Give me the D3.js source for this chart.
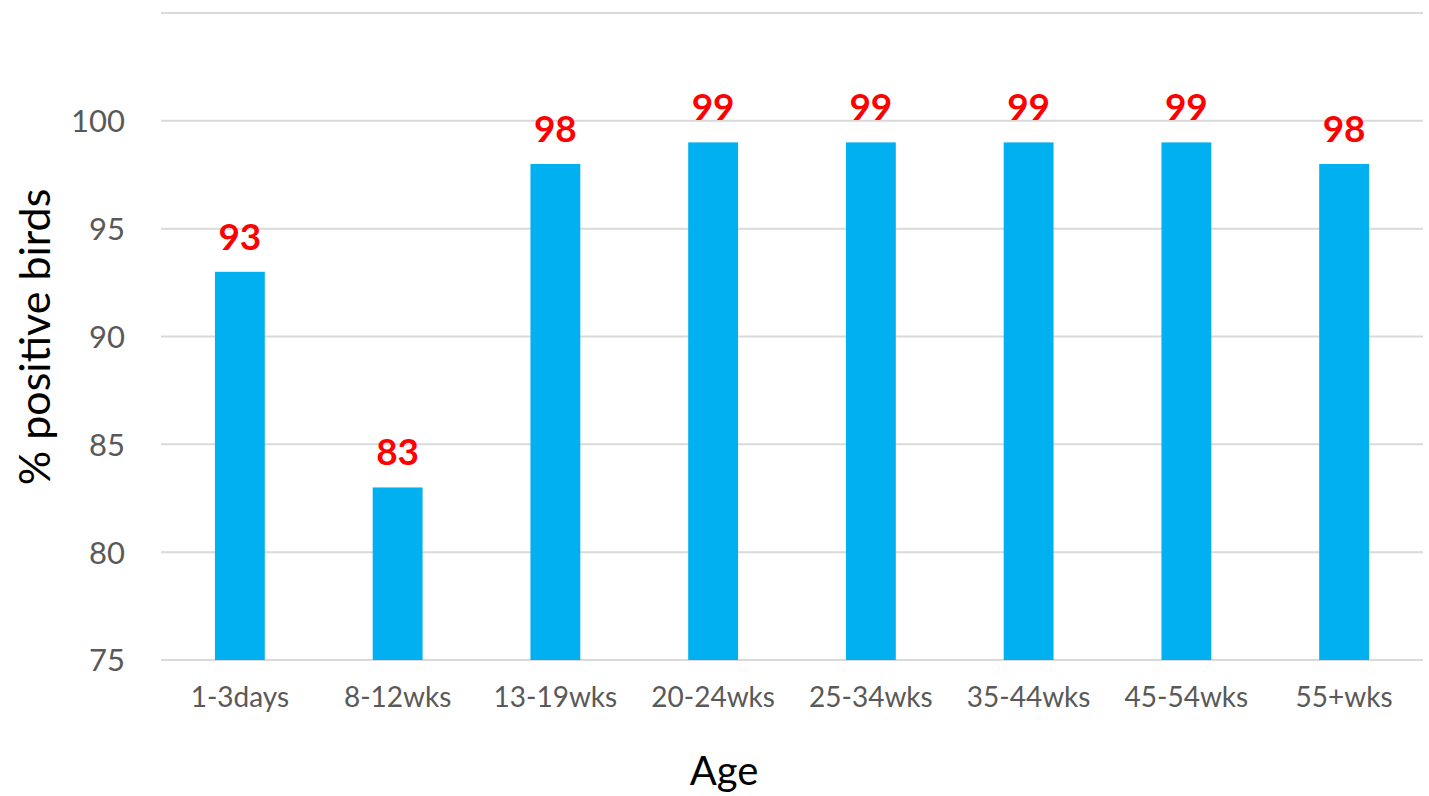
<!DOCTYPE html>
<html>
<head>
<meta charset="utf-8">
<script src="https://cdn.jsdelivr.net/npm/d3@7"></script>
<style>
  html, body { margin: 0; padding: 0; background: #fff; }
  svg { display: block; }
</style>
</head>
<body>
<svg id="chart" width="1429" height="796"></svg>
<script>
// Share of birds testing positive, by age group
const ageGroups = ["1-3days", "8-12wks", "13-19wks", "20-24wks", "25-34wks", "35-44wks", "45-54wks", "55+wks"];
const positivePct = [93, 83, 98, 99, 99, 99, 99, 98];
const yTicks = [75, 80, 85, 90, 95, 100];
const yGridLines = [75, 80, 85, 90, 95, 100, 105];

const fontFamily = "Lato, 'Open Sans', sans-serif";
const svg = d3.select("#chart");

const plot = { left: 161, right: 1423, top: 13, bottom: 660 };

const x = d3.scaleBand()
  .domain(ageGroups)
  .range([plot.left, plot.right])
  .paddingInner(0.684)
  .paddingOuter(0.342);

const y = d3.scaleLinear()
  .domain([75, 105])
  .range([plot.bottom, plot.top]);

// horizontal gridlines
svg.append("g")
  .selectAll("line")
  .data(yGridLines)
  .join("line")
  .attr("x1", plot.left)
  .attr("x2", plot.right)
  .attr("y1", d => y(d))
  .attr("y2", d => y(d))
  .attr("stroke", "#d9d9d9")
  .attr("stroke-width", 2);

// y axis labels
const yAxis = svg.append("g")
  .attr("transform", `translate(${plot.left - 36},0)`)
  .call(d3.axisLeft(y).tickValues(yTicks).tickSize(0).tickPadding(0));
yAxis.select(".domain").remove();
yAxis.selectAll("text")
  .attr("font-family", fontFamily)
  .attr("font-size", 31)
  .attr("fill", "#595959")
  .attr("dy", "0.35em");

// x axis labels
const xAxis = svg.append("g")
  .attr("transform", `translate(0,${plot.bottom})`)
  .call(d3.axisBottom(x).tickSize(0).tickPadding(27));
xAxis.select(".domain").remove();
xAxis.selectAll("text")
  .attr("font-family", fontFamily)
  .attr("font-size", 28)
  .attr("fill", "#595959");

// bars
svg.append("g")
  .selectAll("rect")
  .data(positivePct)
  .join("rect")
  .attr("x", (d, i) => x(ageGroups[i]))
  .attr("y", d => y(d))
  .attr("width", x.bandwidth())
  .attr("height", d => y(75) - y(d))
  .attr("fill", "#00b0f0");

// value labels
svg.append("g")
  .selectAll("text")
  .data(positivePct)
  .join("text")
  .attr("x", (d, i) => x(ageGroups[i]) + x.bandwidth() / 2)
  .attr("y", d => y(d) - 22)
  .attr("text-anchor", "middle")
  .attr("font-family", fontFamily)
  .attr("font-weight", "bold")
  .attr("font-size", 37)
  .attr("fill", "#ff0000")
  .text(d => d);

// axis titles
svg.append("text")
  .attr("x", 724)
  .attr("y", 785)
  .attr("text-anchor", "middle")
  .attr("font-family", fontFamily)
  .attr("font-size", 40)
  .attr("fill", "#000")
  .text("Age");

svg.append("text")
  .attr("transform", `translate(50,337) rotate(-90)`)
  .attr("text-anchor", "middle")
  .attr("font-family", fontFamily)
  .attr("font-size", 43)
  .attr("fill", "#000")
  .text("% positive birds");
</script>
</body>
</html>
